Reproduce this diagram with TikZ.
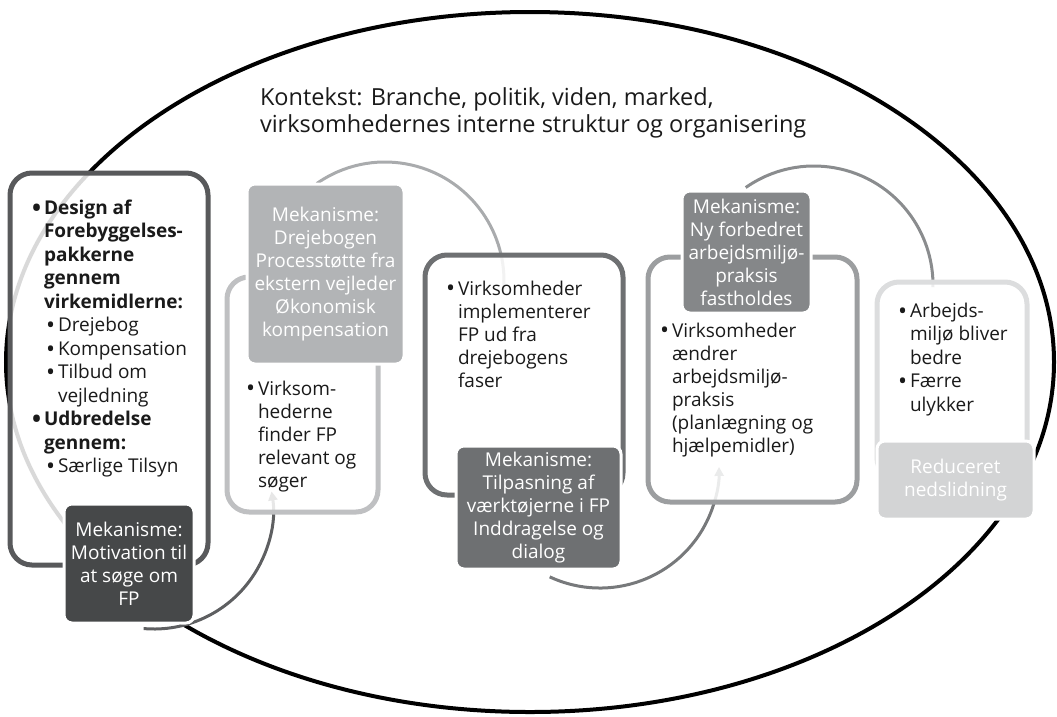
\documentclass[tikz,border=0pt]{standalone}
\usepackage{fontspec}
\setmainfont{Open Sans}
\usetikzlibrary{arrows.meta}

\definecolor{edgeA}{HTML}{58595B}
\definecolor{fillA}{HTML}{464849}
\definecolor{edgeB}{HTML}{BFC0C2}
\definecolor{fillB}{HTML}{B2B4B6}
\definecolor{edgeC}{HTML}{6E7072}
\definecolor{fillC}{HTML}{6E7072}
\definecolor{edgeD}{HTML}{9C9EA0}
\definecolor{fillD}{HTML}{858789}
\definecolor{edgeE}{HTML}{DCDDDE}
\definecolor{fillE}{HTML}{D3D4D5}
\definecolor{linkA}{HTML}{5E5F61}
\definecolor{linkB}{HTML}{A9ABAD}
\definecolor{linkC}{HTML}{77797B}
\definecolor{linkD}{HTML}{8A8C8E}
\definecolor{ink}{HTML}{1A1A1A}

% list bullet, hanging indent and sub-level indent
\newcommand\bul{\makebox[12pt][l]{\smash{\raisebox{-1.6pt}{\fontsize{24}{23}\selectfont •}}}}
\newcommand\ind{\hspace*{12pt}}
\newcommand\subind{\hspace*{14pt}}

\begin{document}
\begin{tikzpicture}[x=1pt, y=-1pt,
  every node/.style={inner sep=0pt, outer sep=0pt},
  stage/.style={draw, line width=5pt, rounded corners=22pt, fill=white, fill opacity=0.85},
  mech/.style={draw=white, line width=3pt, rounded corners=8pt, text=white, align=center,
    font=\fontsize{19}{23}\selectfont},
  body/.style={anchor=north west, align=left, text=ink, font=\fontsize{19}{23}\selectfont},
  link/.style={line width=3pt},
  tip/.style={-{Triangle[length=9pt, width=9pt]}}
]
\useasboundingbox (0,0) rectangle (1057,716);

% context ellipse
\draw[line width=4pt] (530,362) ellipse [x radius=524, y radius=350];

\node[anchor=north west, align=left, text=ink, font=\fontsize{23.5}{27}\selectfont] (ctx) at (260,87)
  {\strut Kontekst: Branche, politik, viden, marked,\\virksomhedernes interne struktur og organisering};

% arc connectors between the stages (centres of the arcs)
\coordinate (k1) at (154,510);
\coordinate (k2) at (385,281);
\coordinate (k3) at (600,469);
\coordinate (k4) at (814,285);
\draw[link, draw=linkA, tip] (k1) ++(95:119) arc[start angle=95, end angle=-9, radius=119];
\draw[link, draw=linkB] (k2) ++(-125:119) arc[start angle=-125, end angle=4, radius=119];
\draw[link, draw=linkC, tip] (k3) ++(115:119) arc[start angle=115, end angle=-1, radius=119];
\draw[link, draw=linkD] (k4) ++(-125:119) arc[start angle=-125, end angle=1, radius=119];

% stage frames
\node[stage, draw=edgeA, minimum width=198pt, minimum height=392pt] (b1) at (109,369) {};
\node[stage, draw=edgeB, minimum width=151pt, minimum height=235pt] (b2) at (302.5,394.5) {};
\node[stage, draw=edgeC, minimum width=198pt, minimum height=240pt] (b3) at (524,375) {};
\node[stage, draw=edgeD, minimum width=209pt, minimum height=245pt] (b4) at (752.5,379.5) {};
\node[stage, draw=edgeE, minimum width=150pt, minimum height=198pt] (b5) at (952,381) {};

% stage texts
\node[body, font=\fontsize{19}{23.5}\selectfont] (t1) at (32,198) {%
  \strut\textbf{\bul Design af}\\
  \ind\textbf{Forebyggelses-}\\
  \ind\textbf{pakkerne}\\
  \ind\textbf{gennem}\\
  \ind\textbf{virkemidlerne:}\\
  \subind\bul Drejebog\\
  \subind\bul Kompensation\\
  \subind\bul Tilbud om\\
  \subind\ind vejledning\\
  \textbf{\bul Udbredelse}\\
  \ind\textbf{gennem:}\\
  \subind\bul Særlige Tilsyn};
\node[body] (t2) at (246,379) {%
  \strut\bul Virksom-\\ \ind hederne\\ \ind finder FP\\ \ind relevant og\\ \ind søger};
\node[body] (t3) at (446,279) {%
  \strut\bul Virksomheder\\ \ind implementerer\\ \ind FP ud fra\\ \ind drejebogens\\ \ind faser};
\node[body] (t4) at (660,321) {%
  \strut\bul Virksomheder\\ \ind ændrer\\ \ind arbejdsmiljø-\\ \ind praksis\\ \ind (planlægning og\\ \ind hjælpemidler)};
\node[body, font=\fontsize{19}{23.5}\selectfont] (t5) at (898,301) {%
  \strut\bul Arbejds-\\ \ind miljø bliver\\ \ind bedre\\ \bul Færre\\ \ind ulykker};

% mechanism boxes
\node[mech, fill=fillA, minimum width=130pt, minimum height=119pt] (m1) at (129,563.5)
  {Mekanisme:\\Motivation til\\at søge om\\FP};
\node[mech, fill=fillB, minimum width=157pt, minimum height=180pt] (m2) at (325.5,274)
  {Mekanisme:\\Drejebogen\\Processtøtte fra\\ekstern vejleder\\Økonomisk\\kompensation};
\node[mech, fill=fillC, minimum width=165pt, minimum height=123pt] (m3) at (538.5,507.5)
  {Mekanisme:\\Tilpasning af\\værktøjerne i FP\\Inddragelse og\\dialog};
\node[mech, fill=fillD, minimum width=129pt, minimum height=122pt] (m4) at (746.5,252)
  {Mekanisme:\\Ny forbedret\\arbejdsmiljø-\\praksis\\fastholdes};
\node[mech, fill=fillE, minimum width=157pt, minimum height=78pt] (m5) at (955.5,480)
  {Reduceret\\nedslidning};
\end{tikzpicture}
\end{document}
